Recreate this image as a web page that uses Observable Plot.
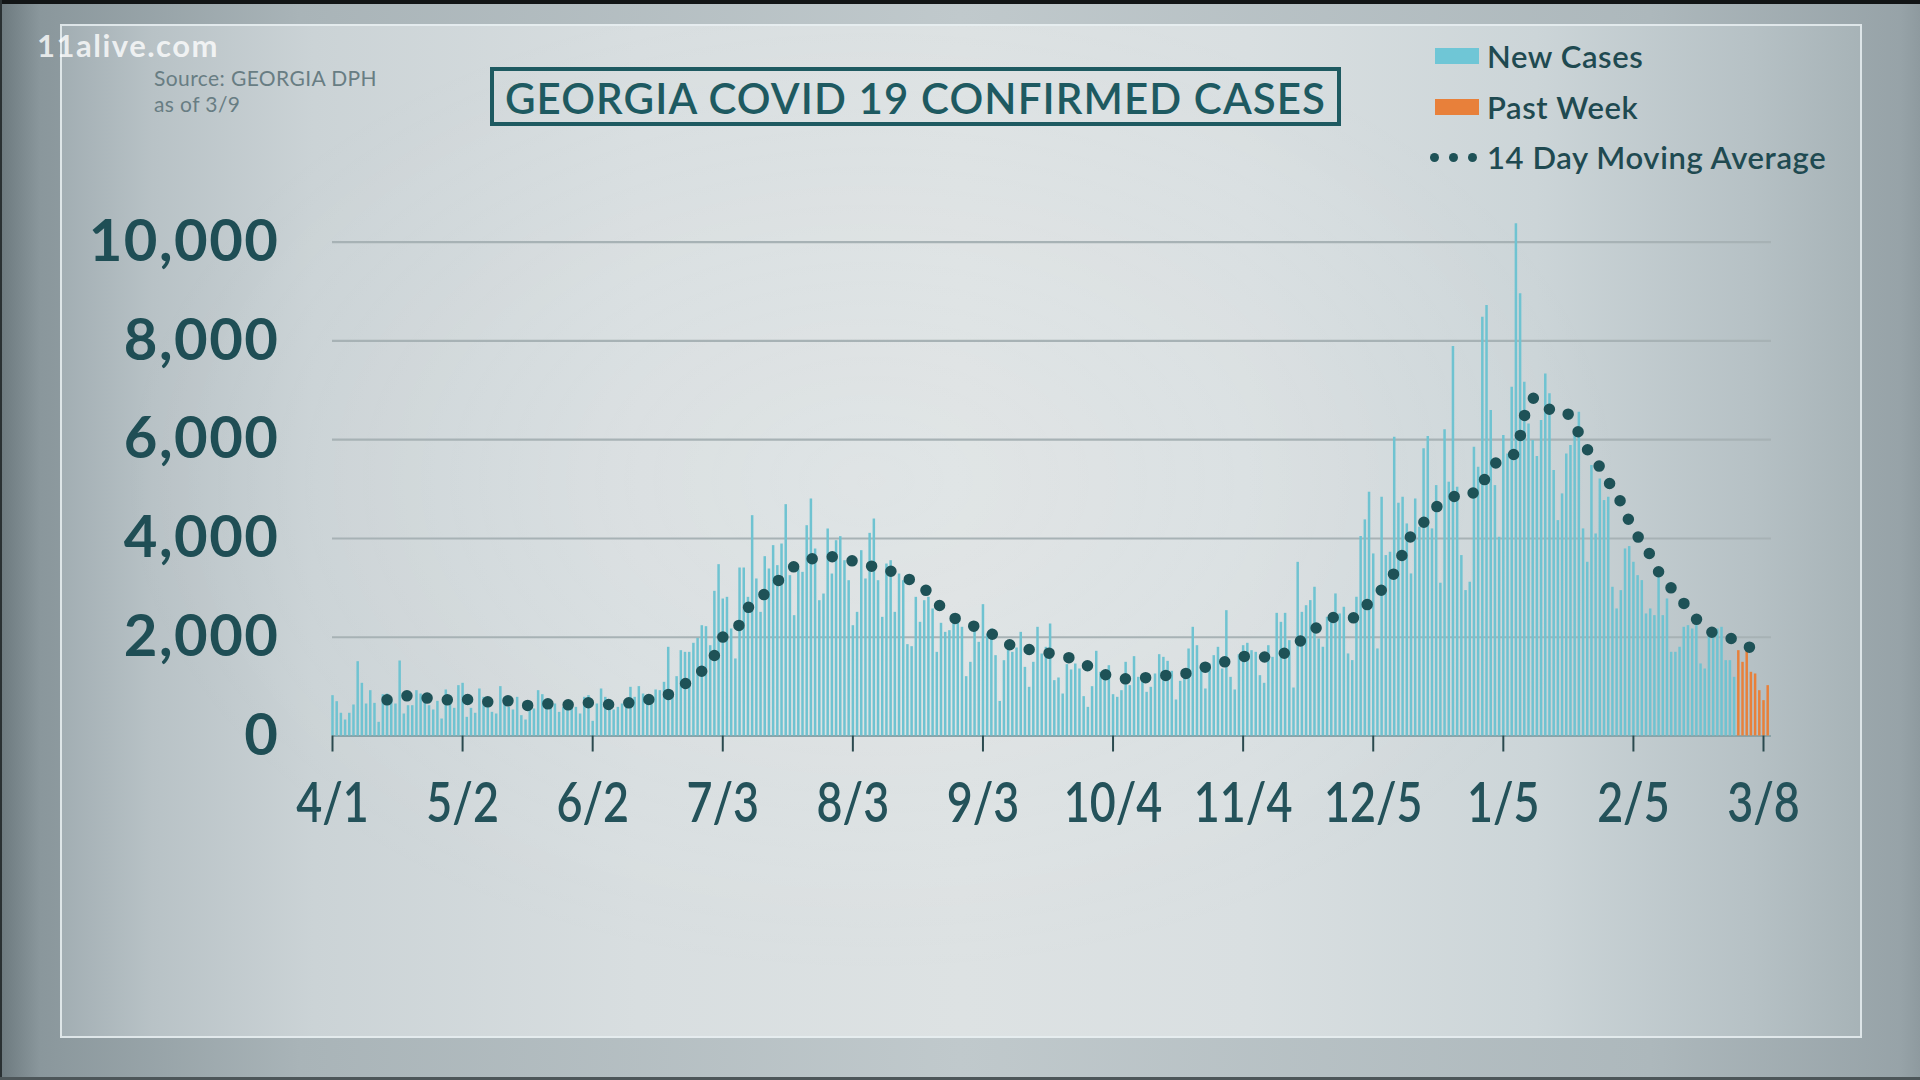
<!DOCTYPE html>
<html>
<head>
<meta charset="utf-8">
<script src="https://cdn.jsdelivr.net/npm/d3@7"></script>
<script src="https://cdn.jsdelivr.net/npm/@observablehq/plot@0.6"></script>
<style>
  html, body { margin: 0; padding: 0; }
  body { width: 1920px; height: 1080px; overflow: hidden; font-family: "Lato", "Noto Sans", sans-serif; }
  #stage {
    position: relative; width: 1920px; height: 1080px; overflow: hidden;
    background: linear-gradient(90deg, #6c797e 0px, #8a979c 40px, #a9b4b8 300px, #c0c9cc 960px, #adb8bc 1650px, #97a3a8 1900px, #8e9a9f 1920px);
  }
  #topbar { position: absolute; left: 0; top: 0; width: 1920px; height: 4px; background: #121516; }
  #leftbar { position: absolute; left: 0; top: 0; width: 2px; height: 1080px; background: #2a3133; }
  #botbar { position: absolute; left: 0; top: 1077px; width: 1920px; height: 3px; background: #4d5659; }
  #frame {
    position: absolute; left: 60px; top: 24px; width: 1798px; height: 1010px;
    border: 2px solid rgba(232, 239, 241, 0.85);
    background:
      radial-gradient(ellipse 60% 70% at 45% 45%, rgba(255,255,255,0.10), rgba(255,255,255,0) 70%),
      linear-gradient(90deg, #a2aeb3 0%, #b8c2c6 5%, #cbd3d6 14%, #d8dee0 32%, #dde2e3 50%, #d9dfe1 66%, #ccd5d8 82%, #b6c1c5 94%, #a7b3b7 100%);
  }
  #watermark {
    position: absolute; left: 37px; top: 27px; font-size: 31px; font-weight: 700;
    color: rgba(255,255,255,0.78); letter-spacing: 1.5px; line-height: 37px; height: 37px;
  }
  #source { position: absolute; left: 154px; top: 65px; font-size: 21px; color: #687d83; line-height: 26px; letter-spacing: 0.4px; }
  #titlebox {
    position: absolute; left: 490px; top: 67px; width: 851px; height: 59px; box-sizing: border-box;
    border: 4.5px solid #1e5a61; display: flex; align-items: center; justify-content: center;
  }
  #titlebox span { font-size: 42px; font-weight: 600; color: #1e5a61; letter-spacing: 1.1px; line-height: 1; padding-top: 2px; }
  .lg-sw { position: absolute; left: 1435px; width: 44px; height: 16px; }
  .lg-tx { position: absolute; left: 1487px; font-size: 31px; font-weight: 600; color: #1f4a51; line-height: 34px; letter-spacing: 0.6px; }
  .lg-dot { position: absolute; width: 9px; height: 9px; border-radius: 50%; background: #1e5257; }
  #chart { position: absolute; left: 0; top: 180px; width: 1920px; height: 680px; }
</style>
</head>
<body>
<div id="stage">
  <div id="frame"></div>
  <div id="topbar"></div>
  <div id="leftbar"></div>
  <div id="botbar"></div>
  <div id="chart"></div>
  <div id="watermark">11alive.com</div>
  <div id="source">Source: GEORGIA DPH<br>as of 3/9</div>
  <div id="titlebox"><span>GEORGIA COVID 19 CONFIRMED CASES</span></div>
  <div class="lg-sw" style="top:48px;background:#6fc6d6"></div>
  <div class="lg-tx" style="top:39px">New Cases</div>
  <div class="lg-sw" style="top:99px;background:#e8803a"></div>
  <div class="lg-tx" style="top:90px">Past Week</div>
  <div class="lg-dot" style="left:1430px;top:153px"></div>
  <div class="lg-dot" style="left:1449px;top:153px"></div>
  <div class="lg-dot" style="left:1468px;top:153px"></div>
  <div class="lg-tx" style="top:140px">14 Day Moving Average</div>
</div>
<script>
// ---- Data ----
const firstDay = "2020-04-01";          // first daily bar
const pastWeekStart = "2021-03-02";     // first bar drawn in the "Past Week" colour
const dailyCases = [
  817, 695, 460, 324, 460, 628, 1505, 1067, 648, 918,
  661, 277, 837, 850, 716, 648, 1519, 446, 614, 614,
  918, 850, 750, 614, 527, 702, 344, 932, 817, 560,
  1020, 1067, 378, 560, 460, 952, 783, 614, 479, 446,
  1000, 783, 580, 527, 783, 412, 324, 580, 547, 918,
  837, 648, 614, 648, 479, 580, 580, 600, 580, 446,
  783, 817, 297, 648, 952, 783, 648, 527, 580, 648,
  729, 986, 783, 1000, 850, 783, 648, 932, 918, 1087,
  1796, 850, 1202, 1728, 1694, 1694, 1877, 1978, 2234, 2214,
  1829, 2930, 3470, 2774, 2808, 2167, 1560, 3402, 3402, 2808,
  4462, 3180, 2504, 3632, 3382, 3855, 3450, 3888, 4685, 3247,
  2437, 3382, 3314, 4259, 4800, 3787, 2740, 2875, 4192, 3280,
  3955, 4037, 3550, 3145, 2234, 2504, 3753, 3180, 4104, 4394,
  3145, 2403, 3483, 3550, 2504, 3280, 3145, 1850, 1809, 2808,
  2302, 2740, 2808, 2572, 1694, 2282, 2099, 2133, 2471, 2302,
  2201, 1202, 1492, 2201, 1897, 2660, 2066, 2167, 1627, 700,
  1525, 1897, 1694, 1782, 2099, 1390, 986, 1492, 2201, 1660,
  1796, 2268, 1121, 1175, 850, 1445, 1337, 1458, 1357, 797,
  580, 999, 1715, 1290, 1290, 1424, 837, 783, 918, 1492,
  1020, 1607, 1188, 1107, 884, 986, 1256, 1647, 1593, 1512,
  1310, 729, 1107, 1269, 1762, 2201, 1829, 1391, 952, 1458,
  1627, 1796, 1357, 2538, 1188, 932, 1647, 1829, 1877, 1728,
  1694, 1222, 1067, 1829, 1593, 2484, 2302, 2484, 1931, 972,
  3517, 2504, 2639, 2742, 3012, 1965, 1797, 2405, 2438, 2877,
  2472, 2607, 1662, 1527, 2810, 4040, 4377, 4937, 3687, 1763,
  4835, 3654, 3721, 6050, 4714, 4835, 4295, 3282, 4800, 4228,
  5815, 6064, 4194, 5071, 3094, 6200, 5140, 7887, 5038, 3654,
  2945, 3114, 5848, 5443, 8480, 8717, 6590, 5071, 4025, 6084,
  5713, 7063, 10372, 8954, 7165, 6320, 5983, 5658, 6388, 7333,
  6929, 5375, 4362, 4903, 5713, 5882, 6220, 6557, 4194, 3518,
  5477, 4092, 5207, 4768, 4835, 3012, 2573, 2944, 3788, 3836,
  3518, 3248, 3147, 2472, 2573, 2438, 3316, 2438, 2775, 1695,
  1695, 1797, 2201, 2235, 2167, 2370, 1459, 1357, 2100, 2066,
  2167, 2201, 1526, 1526, 1188, 1728, 1492, 1762, 1290, 1256,
  918, 716, 1020
];
const maDates = [
  "2020-04-14","2020-04-19","2020-04-23","2020-04-28","2020-05-03","2020-05-08","2020-05-12","2020-05-17",
  "2020-05-22","2020-05-27","2020-06-01","2020-06-06","2020-06-10","2020-06-15","2020-06-20","2020-06-24",
  "2020-06-28","2020-07-01","2020-07-03","2020-07-07","2020-07-09","2020-07-13","2020-07-16","2020-07-20",
  "2020-07-24","2020-07-28","2020-08-02","2020-08-06","2020-08-10","2020-08-14","2020-08-19","2020-08-22",
  "2020-08-25","2020-08-29","2020-09-03","2020-09-07","2020-09-11","2020-09-16","2020-09-21","2020-09-25",
  "2020-09-29","2020-10-04","2020-10-09","2020-10-13","2020-10-18","2020-10-23","2020-10-27","2020-11-01",
  "2020-11-05","2020-11-10","2020-11-15","2020-11-18","2020-11-22","2020-11-26","2020-12-01","2020-12-04",
  "2020-12-07","2020-12-10","2020-12-12","2020-12-14","2020-12-17","2020-12-20","2020-12-23","2020-12-26",
  "2020-12-30","2021-01-01","2021-01-04","2021-01-07","2021-01-09","2021-01-10","2021-01-12","2021-01-15",
  "2021-01-19","2021-01-22","2021-01-24","2021-01-27","2021-01-29","2021-02-01","2021-02-03","2021-02-05",
  "2021-02-08","2021-02-10","2021-02-13","2021-02-16","2021-02-19","2021-02-22","2021-02-27","2021-03-03",
  "2021-03-07"
];
const maValues = [
  732, 813, 773, 732, 739, 692, 719, 618,
  651, 631, 673, 638, 665, 732, 840, 1056,
  1313, 1630, 2001, 2258, 2588, 2878, 3128, 3432,
  3581, 3635, 3568, 3453, 3420, 3237, 3068, 2798,
  2528, 2305, 2163, 1974, 1785, 1731, 1630, 1549,
  1374, 1192, 1151, 1198, 1239, 1293, 1428, 1529,
  1617, 1597, 1732, 1948, 2223, 2406, 2392, 2710,
  2960, 3304, 3689, 4054, 4323, 4634, 4755, 4938,
  4917, 5288, 5579, 5660, 6065, 6470, 6841, 6625,
  6605, 6314, 5930, 5599, 5275, 4904, 4546, 4161,
  3837, 3466, 3101, 2797, 2473, 2183, 2014, 1880,
  1664
];
const xTickDates = ["2020-04-01","2020-05-02","2020-06-02","2020-07-03","2020-08-03","2020-09-03",
                    "2020-10-04","2020-11-04","2020-12-05","2021-01-05","2021-02-05","2021-03-08"];
const xTickLabels = ["4/1","5/2","6/2","7/3","8/3","9/3","10/4","11/4","12/5","1/5","2/5","3/8"];
const yTicks = [0, 2000, 4000, 6000, 8000, 10000];
const yTickLabels = ["0","2,000","4,000","6,000","8,000","10,000"];

// ---- Tables built from the arrays ----
const start = new Date(firstDay + "T00:00:00Z");
const pwStart = new Date(pastWeekStart + "T00:00:00Z");
const days = dailyCases.map((v, i) => ({date: d3.utcDay.offset(start, i), cases: v}));
const ma = maDates.map((d, i) => ({date: new Date(d + "T00:00:00Z"), value: maValues[i]}));
const xTicks = xTickDates.map(d => new Date(d + "T00:00:00Z"));

const teal = "#6fc3d1";
const orange = "#e8803a";

const chart = Plot.plot({
  width: 1920,
  height: 680,
  marginLeft: 332,
  marginRight: 149,
  marginTop: 61.7,
  marginBottom: 124.5,
  style: {background: "transparent", overflow: "visible", fontFamily: "Lato, 'Noto Sans', sans-serif"},
  x: {type: "utc", domain: [xTicks[0], xTicks[xTicks.length - 1]], range: [332, 1763]},
  y: {domain: [0, 10000], range: [555.5, 61.7]},
  marks: [
    Plot.ruleY(yTicks.slice(1), {stroke: "#a7b2b5", strokeWidth: 2.2}),
    Plot.ruleY([0], {stroke: "#8aa3a8", strokeWidth: 2}),
    Plot.ruleX(days.filter(d => d.date < pwStart), {x: "date", y: "cases", stroke: teal, strokeWidth: 2.5}),
    Plot.ruleX(days.filter(d => d.date >= pwStart), {x: "date", y: "cases", stroke: orange, strokeWidth: 2.5}),
    Plot.line(ma, {x: "date", y: "value", stroke: "#1e5257", strokeWidth: 11.5,
      strokeLinecap: "round", strokeDasharray: "0 20.3", curve: "monotone-x"}),
    Plot.axisX({ticks: xTicks, tickFormat: d => xTickLabels[xTicks.findIndex(t => +t === +d)],
      tickSize: 16, tickPadding: 30, fontSize: 56, fontWeight: 600, fill: "#24525a",
      stroke: "#2b4a4f", strokeWidth: 2, label: null}),
    Plot.axisY({ticks: yTicks, tickFormat: d => yTickLabels[yTicks.indexOf(d)],
      tickSize: 0, tickPadding: 53, fontSize: 58, fontWeight: 700, fill: "#1f4e55", label: null})
  ]
});
document.getElementById("chart").appendChild(chart);

// wider y labels, condensed date labels (as in the reference typeface)
chart.querySelectorAll('g[aria-label="y-axis tick label"] text').forEach(t => {
  t.setAttribute("letter-spacing", "1.5");
});
chart.querySelectorAll('g[aria-label="x-axis tick label"] text').forEach(t => {
  const tr = t.getAttribute("transform") || "";
  if (t.hasAttribute("x")) {
    const x = +t.getAttribute("x") || 0, y = +t.getAttribute("y") || 0;
    t.removeAttribute("x"); t.removeAttribute("y");
    t.setAttribute("transform", `${tr} translate(${x},${y}) scale(0.8,1)`);
  } else {
    t.setAttribute("transform", `${tr} scale(0.8,1)`);
  }
});
</script>
</body>
</html>
